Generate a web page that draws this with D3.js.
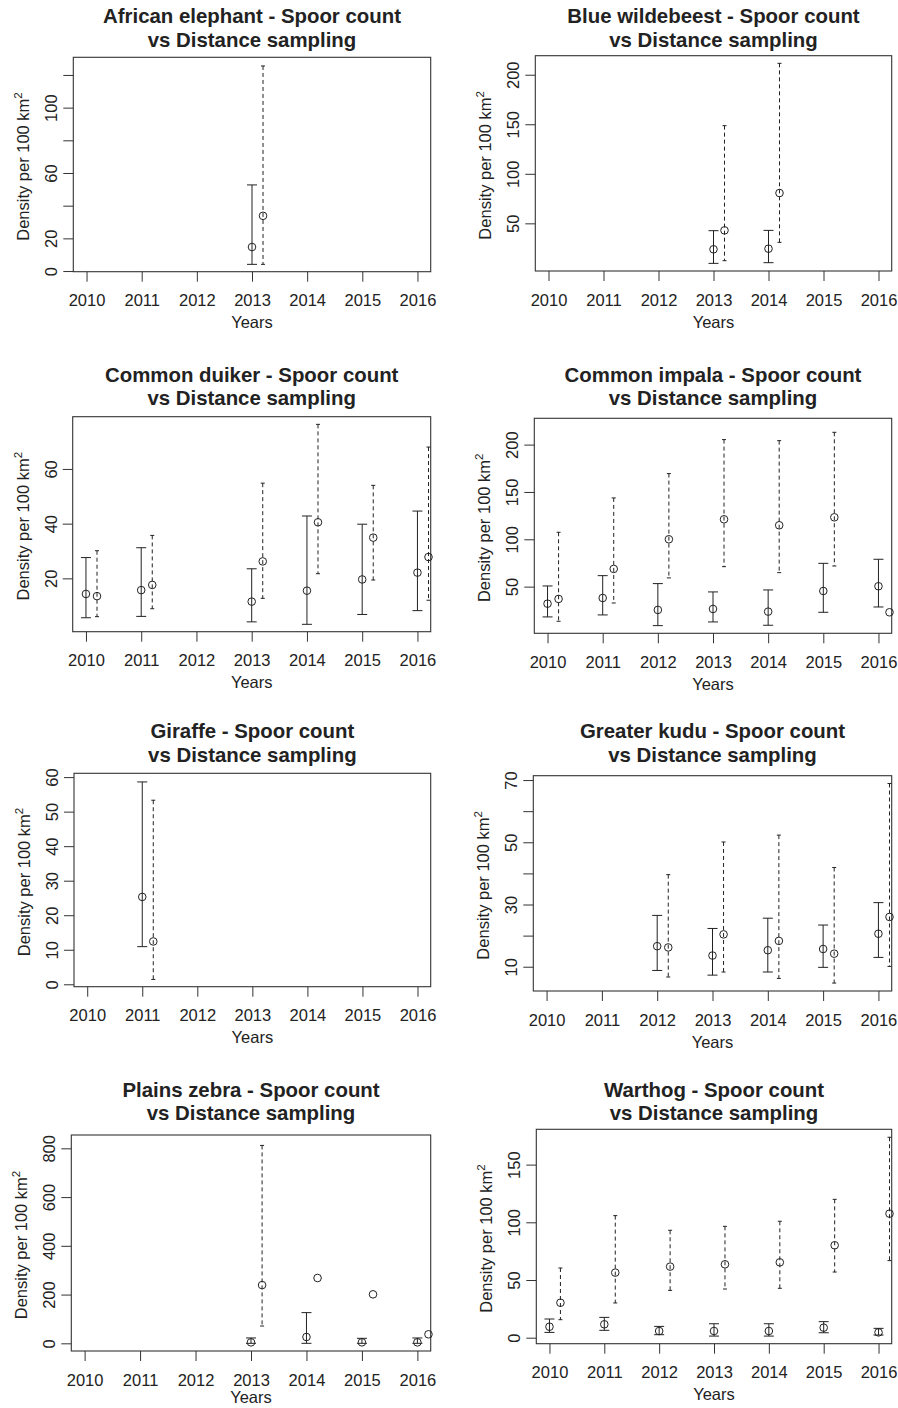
<!DOCTYPE html>
<html>
<head>
<meta charset="utf-8">
<script src="https://cdn.jsdelivr.net/npm/d3@7/dist/d3.min.js"></script>
<style>
  html, body { margin: 0; padding: 0; background: #fff; }
  svg { display: block; }
  text { font-family: "Liberation Sans", Arial, Helvetica, sans-serif; fill: #222; }
</style>
</head>
<body>
<svg id="chart" width="898" height="1408"></svg>
<script>
// Survey years on the x axis
const years = [2010, 2011, 2012, 2013, 2014, 2015, 2016];
const xLimits = [2009.76, 2016.24];
// Distance-sampling estimates are drawn slightly to the right of each year
const distanceOffset = 0.2;

// Each row: [year, estimate, lower CI, upper CI] (density per 100 km²)
const elephantSpoor     = [[2013, 14.7, 4.1, 52.7]];
const elephantDistance  = [[2013, 33.8, 4.1, 125.5]];

const wildebeestSpoor    = [[2013, 23.8, 9.6, 42.6], [2014, 24.4, 10.3, 42.9]];
const wildebeestDistance = [[2013, 42.9, 12.3, 148.6], [2014, 80.6, 30.8, 211.5]];

const duikerSpoor = [
  [2010, 14.3, 5.6, 27.6], [2011, 15.7, 6.1, 31.2], [2013, 11.5, 4.1, 23.5],
  [2014, 15.5, 3.2, 42.8], [2015, 19.6, 6.8, 39.8], [2016, 22.1, 8.2, 44.6]
];
const duikerDistance = [
  [2010, 13.5, 6.0, 30.1], [2011, 17.6, 8.9, 35.7], [2013, 26.2, 12.7, 54.8],
  [2014, 40.5, 21.7, 76.3], [2015, 34.9, 19.4, 54.0], [2016, 27.8, 12.0, 68.0]
];

const impalaSpoor = [
  [2010, 32.0, 18.0, 50.7], [2011, 38.0, 20.1, 61.6], [2012, 25.4, 8.8, 53.2],
  [2013, 26.4, 12.7, 44.4], [2014, 23.6, 9.2, 46.5], [2015, 45.4, 22.9, 74.6],
  [2016, 50.4, 28.5, 78.9]
];
const impalaDistance = [
  [2010, 37.0, 13.4, 107.4], [2011, 68.7, 32.7, 143.7], [2012, 100.0, 59.2, 169.4],
  [2013, 121.1, 71.1, 205.3], [2014, 114.8, 64.8, 204.2], [2015, 123.2, 71.8, 213.0],
  [2016, 22.9, null, null]
];

const giraffeSpoor    = [[2011, 25.3, 10.9, 58.6]];
const giraffeDistance = [[2011, 12.4, 1.4, 53.3]];

const kuduSpoor = [
  [2012, 16.6, 8.8, 26.5], [2013, 13.6, 7.3, 22.3], [2014, 15.3, 8.3, 25.6],
  [2015, 15.7, 9.8, 23.4], [2016, 20.6, 13.0, 30.6]
];
const kuduDistance = [
  [2012, 16.2, 6.7, 39.6], [2013, 20.4, 8.3, 50.1], [2014, 18.3, 6.25, 52.3],
  [2015, 14.2, 4.75, 41.9], [2016, 26.0, 10.1, 68.9]
];

const zebraSpoor = [
  [2013, 4, 0, 22], [2014, 26, 0, 126], [2015, 4, 0, 20.5], [2016, 4, 0, 22]
];
const zebraDistance = [
  [2013, 239, 71, 812], [2014, 268, null, null], [2015, 201, null, null], [2016, 37, null, null]
];

const warthogSpoor = [
  [2010, 9.5, 4.6, 16.2], [2011, 11.6, 6.4, 17.6], [2012, 5.8, 2.6, 9.8],
  [2013, 5.8, 1.4, 12.1], [2014, 5.8, 1.4, 12.1], [2015, 8.7, 4.3, 13.9],
  [2016, 4.6, 2.3, 8.1]
];
const warthogDistance = [
  [2010, 30.3, 15.6, 60.4], [2011, 56.4, 30.1, 105.8], [2012, 61.6, 41.0, 93.1],
  [2013, 63.6, 42.2, 96.5], [2014, 65.3, 42.8, 100.9], [2015, 80.1, 56.9, 119.9],
  [2016, 107.5, 66.8, 173.7]
];

// Species names (title prefix)
const speciesNames = [
  "African elephant", "Blue wildebeest", "Common duiker", "Common impala",
  "Giraffe", "Greater kudu", "Plains zebra", "Warthog"
];

// y-axis limits per species
const yLimits = [
  [-0.4, 130.8], [1.9, 219.2], [0.5, 79.1], [0.7, 227.8],
  [-0.7, 61.1], [2.2, 71.4], [-31.5, 854.7], [-5.2, 180.6]
];

// y-axis tick positions and the subset that carries a label
const yTicks = [
  [0, 20, 40, 60, 80, 100, 120], [50, 100, 150, 200], [20, 40, 60], [50, 100, 150, 200],
  [0, 10, 20, 30, 40, 50, 60], [10, 20, 30, 40, 50, 60, 70], [0, 200, 400, 600, 800], [0, 50, 100, 150]
];
const yTickLabels = [
  [0, 20, 60, 100], [50, 100, 150, 200], [20, 40, 60], [50, 100, 150, 200],
  [0, 10, 20, 30, 40, 50, 60], [10, 30, 50, 70], [0, 200, 400, 600, 800], [0, 50, 100, 150]
];

const spoorSeries = [elephantSpoor, wildebeestSpoor, duikerSpoor, impalaSpoor,
                     giraffeSpoor, kuduSpoor, zebraSpoor, warthogSpoor];
const distanceSeries = [elephantDistance, wildebeestDistance, duikerDistance, impalaDistance,
                        giraffeDistance, kuduDistance, zebraDistance, warthogDistance];

// Plot boxes [left, top, right, bottom] and title baselines for the 2 x 4 grid
const panelLayout = [
  { box: [73.3, 57.3, 430.7, 271.7],   titleY: [23.3, 46.7] },
  { box: [535.3, 55.7, 891.7, 271],    titleY: [23.3, 46.7] },
  { box: [72.7, 416.7, 430.7, 631.7],  titleY: [381.7, 405] },
  { box: [534.3, 418.3, 891.7, 633.3], titleY: [381.7, 405] },
  { box: [74, 773.3, 430.7, 986.7],    titleY: [738.3, 761.7] },
  { box: [533.3, 775.7, 891.7, 991],   titleY: [738.3, 761.7] },
  { box: [71.3, 1135, 430.7, 1351],    titleY: [1096.7, 1120] },
  { box: [536.3, 1129.3, 891.7, 1343.7], titleY: [1096.7, 1120] }
];

const ink = "#222";
const svg = d3.select("#chart");
svg.append("rect").attr("width", 898).attr("height", 1408).attr("fill", "#fff");

speciesNames.forEach((name, i) => {
  const [L, T, R, B] = panelLayout[i].box;
  const g = svg.append("g");
  const x = d3.scaleLinear().domain(xLimits).range([L, R]);
  const y = d3.scaleLinear().domain(yLimits[i]).range([B, T]);
  const cx = (L + R) / 2;

  // Title, two lines
  const titleLines = [name + " - Spoor count", "vs Distance sampling"];
  titleLines.forEach((line, k) => {
    g.append("text")
      .attr("x", cx).attr("y", panelLayout[i].titleY[k])
      .attr("text-anchor", "middle")
      .style("font-size", "20.4px").style("font-weight", "bold")
      .text(line);
  });

  // x axis
  const xAxis = d3.axisBottom(x).tickValues(years).tickSize(10).tickPadding(12.8)
    .tickFormat(d3.format("d"));
  const gx = g.append("g").attr("transform", `translate(0,${B})`).call(xAxis);
  gx.select(".domain").remove();
  gx.selectAll(".tick line").attr("stroke", "#333");
  gx.selectAll(".tick text").style("font-size", "16.5px").attr("fill", ink)
    .style("font-family", '"Liberation Sans", Arial, sans-serif');

  // y axis with labels parallel to the axis
  const labelled = new Set(yTickLabels[i]);
  const yAxis = d3.axisLeft(y).tickValues(yTicks[i]).tickSize(10)
    .tickFormat(d => labelled.has(d) ? String(d) : "");
  const gy = g.append("g").attr("transform", `translate(${L},0)`).call(yAxis);
  gy.select(".domain").remove();
  gy.selectAll(".tick line").attr("stroke", "#333");
  gy.selectAll(".tick text")
    .attr("transform", "rotate(-90)")
    .attr("x", 0).attr("y", -16).attr("dy", 0)
    .attr("text-anchor", "middle")
    .attr("fill", ink)
    .style("font-size", "16.5px")
    .style("font-family", '"Liberation Sans", Arial, sans-serif');

  // Axis titles (kept inside the page at the bottom edge)
  g.append("text")
    .attr("x", cx).attr("y", Math.min(B + 56.7, 1403))
    .attr("text-anchor", "middle")
    .style("font-size", "16.5px")
    .text("Years");
  const yl = g.append("text")
    .attr("transform", `translate(${L - 44},${(T + B) / 2 + 2}) rotate(-90)`)
    .attr("text-anchor", "middle")
    .style("font-size", "16.5px");
  yl.append("tspan").text("Density per 100 km");
  yl.append("tspan").attr("dy", -7).style("font-size", "11.5px").text("2");

  // Plot frame
  g.append("rect")
    .attr("x", L).attr("y", T).attr("width", R - L).attr("height", B - T)
    .attr("fill", "none").attr("stroke", "#333").attr("stroke-width", 1.1);

  const marks = g.append("g");

  // Spoor count: solid intervals with wide caps
  const spoor = spoorSeries[i];
  spoor.filter(d => d[2] != null).forEach(d => {
    const px = x(d[0]);
    marks.append("line").attr("x1", px).attr("x2", px)
      .attr("y1", y(d[2])).attr("y2", y(d[3]))
      .attr("stroke", ink).attr("stroke-width", 1);
    [d[2], d[3]].forEach(v => {
      marks.append("line").attr("x1", px - 5).attr("x2", px + 5)
        .attr("y1", y(v)).attr("y2", y(v))
        .attr("stroke", ink).attr("stroke-width", 1);
    });
  });

  // Distance sampling: dashed intervals with narrow caps
  const dist = distanceSeries[i];
  dist.filter(d => d[2] != null).forEach(d => {
    const px = x(d[0] + distanceOffset);
    marks.append("line").attr("x1", px).attr("x2", px)
      .attr("y1", y(d[3])).attr("y2", y(d[2]))
      .attr("stroke", ink).attr("stroke-width", 1)
      .attr("stroke-dasharray", "4,3");
    [d[2], d[3]].forEach(v => {
      marks.append("line").attr("x1", px - 2).attr("x2", px + 2)
        .attr("y1", y(v)).attr("y2", y(v))
        .attr("stroke", ink).attr("stroke-width", 1);
    });
  });

  // Point estimates as open circles
  marks.selectAll("circle.spoor").data(spoor).enter().append("circle")
    .attr("class", "spoor")
    .attr("cx", d => x(d[0])).attr("cy", d => y(d[1])).attr("r", 3.8)
    .attr("fill", "none").attr("stroke", ink).attr("stroke-width", 1);
  marks.selectAll("circle.dist").data(dist).enter().append("circle")
    .attr("class", "dist")
    .attr("cx", d => x(d[0] + distanceOffset)).attr("cy", d => y(d[1])).attr("r", 3.8)
    .attr("fill", "none").attr("stroke", ink).attr("stroke-width", 1);
});
</script>
</body>
</html>
